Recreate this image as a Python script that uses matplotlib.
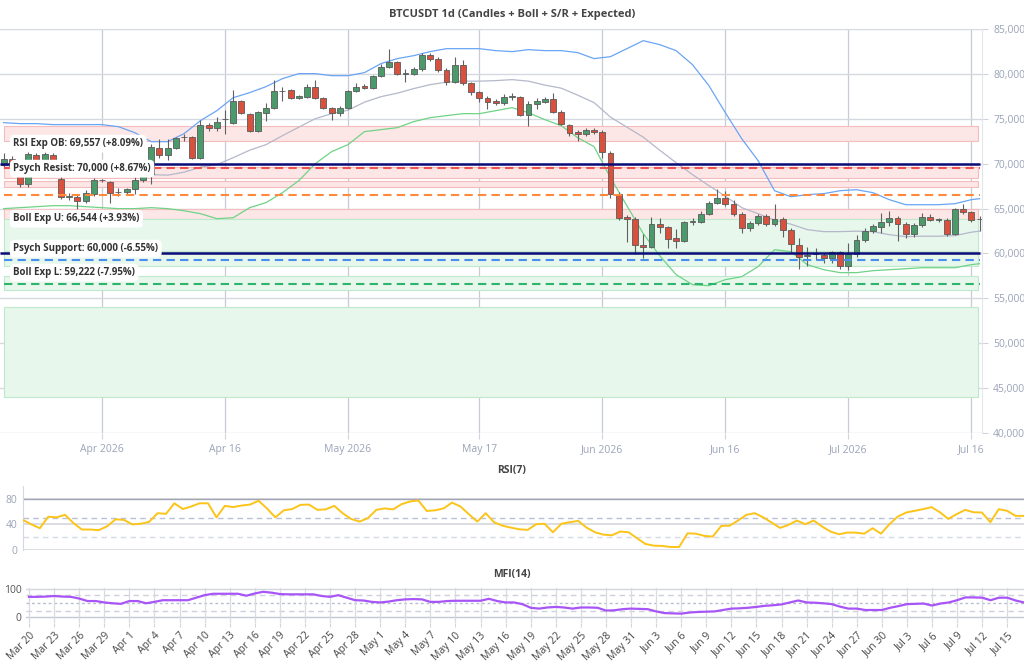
import numpy as np
import pandas as pd
import matplotlib
matplotlib.use("Agg")
import matplotlib.pyplot as plt
import matplotlib.dates as mdates
from matplotlib.patches import Rectangle
from matplotlib.ticker import FuncFormatter

plt.rcParams['font.family'] = ['Open Sans', 'DejaVu Sans']

# daily candles, Mar 20 .. Jul 17 2026
dates = pd.date_range("2026-03-20", periods=120, freq="D")

opens = [69890, 70560, 69660, 67770, 71000, 70110, 71000, 68330, 66320, 66320,
         65880, 66660, 68220, 67990, 66880, 66880, 67220, 68220, 68890, 71780,
         71000, 71780, 72950, 73010, 70670, 74350, 74010, 74960, 74570, 77020,
         75570, 73680, 75680, 76240, 78080, 78240, 77350, 77460, 78580, 77350,
         76240, 75680, 76240, 78130, 78690, 78470, 79800, 80810, 81360, 80030,
         80030, 80580, 82140, 81700, 80470, 79140, 81030, 79020, 78020, 77350,
         77020, 76800, 77460, 77460, 75460, 76680, 76910, 77240, 75790, 74350,
         73570, 73340, 73790, 73570, 71230, 66660, 64100, 63870, 60980, 60750,
         63320, 62980, 61760, 61420, 63540, 63540, 64430, 65660, 66210, 65540,
         64430, 62870, 63430, 64210, 63320, 63870, 62650, 60980, 59750, 59970,
         59860, 59530, 60200, 58640, 59970, 61530, 62540, 62980, 63540, 63980,
         63320, 62200, 63200, 64100, 63760, 63760, 62200, 64990, 64650, 63870]
highs = [71230, 70900, 70000, 71450, 71230, 71340, 71230, 68660, 66770, 66540,
         67100, 68440, 68330, 68110, 67330, 67330, 68550, 69000, 72230, 72790,
         72790, 73010, 73340, 73120, 74900, 74570, 75240, 76020, 78240, 77130,
         75680, 75900, 76800, 79360, 78580, 78360, 77690, 78910, 79360, 77460,
         76350, 76460, 78240, 79020, 78910, 79910, 81140, 82810, 81470, 80580,
         80810, 82370, 82370, 81920, 80690, 81920, 81590, 79140, 78130, 77580,
         77240, 77800, 77910, 77580, 77020, 77350, 77460, 77910, 76020, 74460,
         73790, 74010, 74010, 73790, 71450, 66880, 64320, 64100, 62200, 64100,
         63980, 63090, 62760, 63650, 63980, 64760, 65880, 67220, 67000, 65990,
         64650, 63650, 64430, 64430, 65540, 64100, 62870, 61760, 60750, 60640,
         60090, 60310, 60310, 61200, 62090, 62870, 63320, 64540, 64760, 64210,
         63540, 63430, 64540, 64430, 63980, 63980, 65100, 65540, 64760, 64210]
lows = [69550, 69220, 67440, 67440, 69780, 69890, 69220, 66100, 65990, 64990,
        65660, 66430, 67990, 65660, 66430, 66660, 66660, 68000, 67770, 70670,
        70450, 71670, 72560, 70560, 70560, 73680, 73680, 73340, 74460, 75570,
        73570, 73570, 74790, 76130, 77020, 77240, 77240, 77350, 77240, 76130,
        74900, 75350, 76130, 78020, 78360, 78360, 79690, 80690, 79910, 79140,
        79910, 80360, 81480, 80250, 78800, 79020, 78800, 77690, 76910, 76130,
        76570, 76570, 77130, 75350, 74230, 76130, 76800, 75680, 74350, 73120,
        72560, 73120, 73340, 70670, 66210, 63760, 61310, 59970, 59530, 60640,
        62310, 60640, 60640, 61310, 63200, 63430, 64320, 65540, 65320, 64210,
        62310, 62540, 63200, 63090, 63090, 61870, 60190, 58300, 58600, 59300,
        58970, 58970, 58300, 58190, 59640, 61310, 62310, 62310, 63090, 61420,
        61760, 61870, 62980, 63650, 63540, 61980, 62090, 64430, 63540, 62540]
closes = [70560, 69660, 67770, 71110, 70110, 71110, 69660, 66320, 66430, 65880,
          66770, 68220, 68160, 66770, 66830, 67220, 68220, 68770, 71890, 71000,
          71780, 72900, 73010, 70670, 74350, 74010, 74680, 75010, 77020, 75680,
          73680, 75790, 76240, 78130, 78130, 77350, 77580, 78580, 77350, 76240,
          75680, 76240, 78130, 78580, 78470, 79800, 80810, 81360, 80030, 80080,
          80580, 82140, 81700, 80470, 79140, 81030, 79020, 78020, 77350, 76910,
          76800, 77460, 77520, 75460, 76680, 77020, 77240, 75790, 74460, 73450,
          73340, 73790, 73570, 71340, 66660, 63980, 63870, 60980, 60750, 63320,
          62980, 61650, 61420, 63540, 63600, 64430, 65660, 66210, 65540, 64430,
          62870, 63430, 64210, 63320, 63870, 62650, 61090, 59640, 59800, 60030,
          59530, 60200, 58640, 59970, 61530, 62540, 63090, 63540, 63980, 63320,
          62200, 63200, 64100, 63760, 63820, 62200, 64990, 64650, 63760, 63820]

# bollinger bands read every second day (+ last day)
band_dates = list(dates[::2]) + [dates[-1]]
boll_upper = [74570, 74460, 74460, 74350, 74350, 74350, 74350, 74120, 73450, 72450,
              72450, 73340, 74790, 75900, 77350, 77910, 78580, 79470, 80030, 80030,
              79800, 79800, 80140, 81140, 81700, 82030, 82480, 82810, 82810, 82810,
              82590, 82480, 82700, 82590, 82590, 82370, 81700, 81920, 82810, 83700,
              83260, 82590, 81030, 78690, 75680, 72790, 70330, 66990, 66320, 66550,
              66660, 66990, 67100, 66770, 65990, 65430, 65430, 65430, 65540, 65990, 66100]
boll_mid = [69780, 69780, 69830, 69830, 69830, 69780, 69720, 69550, 69220, 68780,
            68720, 69050, 69610, 69890, 70670, 71500, 72120, 73120, 74070, 75010,
            75570, 75960, 76850, 77460, 77850, 78360, 78800, 79080, 79190, 79190,
            79250, 79360, 79190, 78750, 78410, 77630, 76800, 75180, 74070, 72950,
            71500, 70110, 68780, 67550, 66380, 65100, 64430, 63710, 63260, 62650,
            62430, 62430, 62480, 62430, 62090, 61870, 61920, 61920, 61980, 62370, 62480]
boll_lower = [64990, 65100, 65210, 65320, 65320, 65210, 65100, 64990, 64990, 65100,
              64990, 64760, 64430, 63870, 63980, 65100, 65660, 66770, 68110, 70000,
              71340, 72120, 73570, 73790, 74010, 74680, 75120, 75350, 75570, 75570,
              75900, 76240, 75680, 74900, 74230, 72900, 71890, 68440, 65320, 62200,
              59750, 57640, 56520, 56410, 57080, 57410, 58530, 60420, 60200, 58750,
              58190, 57860, 57860, 58080, 58190, 58300, 58410, 58410, 58410, 58750, 58860]

# support / resistance zones
red_zones = [(72560, 74150), (68410, 69590), (67360, 68110), (63870, 64990)]
green_zones = [(60310, 63870), (58640, 60310), (55960, 57520), (44010, 54040)]

psych_levels = [70000, 60000]
rsi_ob, boll_u, boll_l, rsi_os = 69557, 66544, 59222, 56630

rsi = [47, 40, 34, 52, 51, 55, 42, 32, 32, 31,
       37, 48, 47, 40, 41, 44, 57.5, 56.5, 73, 64,
       68, 73, 73, 51, 69, 67, 69.5, 71, 77, 65,
       51, 62, 64, 70.6, 71, 62.7, 63.5, 69, 57.5, 48.6,
       44.4, 49.7, 62.7, 65, 63.5, 71.6, 75.8, 77.4, 61, 62,
       65, 74, 68, 56, 44.4, 57.5, 43.4, 38, 35, 32.4,
       31.4, 40.3, 41, 27.7, 41, 43.4, 45.5, 35, 27.7, 24,
       23, 28.8, 27.7, 18.3, 9.4, 6.8, 6.3, 4.7, 4.7, 26,
       25.5, 22, 21, 37.6, 38, 46, 55, 57.5, 51, 42.9,
       34.5, 39.2, 46, 40.3, 46, 36.6, 28.8, 24.6, 27.2, 27.2,
       25.5, 34, 25.5, 40.3, 52.3, 58.6, 61.2, 63.8, 67, 59,
       48.6, 56, 62.7, 59, 58.6, 43.4, 63.8, 61.2, 53.3, 53.3]
mfi = [72, 72, 73, 75, 73, 72, 66, 57, 57, 52,
       49, 47, 57, 57, 49, 54, 60, 60, 60, 60,
       69, 78, 83, 83, 83, 83, 76, 84, 90, 87,
       82, 81, 81, 81, 81, 75, 72, 78, 69, 60,
       59, 54, 52, 55, 60, 63, 64, 63, 54, 54,
       57, 58, 58, 58, 58, 65, 57, 52, 52, 46,
       33, 30, 34, 36, 34, 30, 34, 34, 33, 23,
       24, 28, 30, 29, 28, 20, 14, 13, 12, 16,
       18, 19, 20, 25, 30, 31, 33, 36, 40, 42,
       45, 52, 59, 52, 51, 49, 46, 37, 30, 30,
       25, 25, 25, 33, 39, 46, 47, 48, 41, 48,
       52, 60, 70, 70, 69, 60, 69, 69, 59, 52]

main_ticks = ["2026-04-01", "2026-04-16", "2026-05-01", "2026-05-17",
              "2026-06-01", "2026-06-16", "2026-07-01", "2026-07-16"]
main_tick_labels = ["Apr 2026", "Apr 16", "May 2026", "May 17",
                    "Jun 2026", "Jun 16", "Jul 2026", "Jul 16"]

LABEL_GREY = '#9aa3b8'
W, H = 1024, 662


def box(l, t, r, b):
    """pixel box -> figure fraction rect"""
    return [l / W, 1 - b / H, (r - l) / W, (b - t) / H]


fig = plt.figure(figsize=(10.24, 6.62), dpi=100)
ax = fig.add_axes(box(0, 29, 982, 433))
ax_rsi = fig.add_axes(box(23, 486, 1024, 550))
ax_mfi = fig.add_axes(box(26, 588, 1024, 623))

x = mdates.date2num(dates)
bx = mdates.date2num(band_dates)
o, h, l, c = map(np.array, (opens, highs, lows, closes))

# ---- main price panel ----
ax.set_xlim(x[0] - 0.44, x[0] + 119.3)
ax.set_ylim(40000, 85000)

for lo, hi in red_zones:
    ax.add_patch(Rectangle((x[0], lo), x[-1] - x[0] - 0.2, hi - lo,
                           facecolor='#fde6e6', edgecolor='#f4bcbc', lw=0.8, zorder=1))
for lo, hi in green_zones:
    ax.add_patch(Rectangle((x[0], lo), x[-1] - x[0] - 0.2, hi - lo,
                           facecolor='#e7f7ec', edgecolor='#bfe9cc', lw=0.8, zorder=1))

ax.plot(bx, boll_upper, color='#6aa5f5', lw=0.9, zorder=3)
ax.plot(bx, boll_mid, color='#b5b8ca', lw=0.9, zorder=3)
ax.plot(bx, boll_lower, color='#6fd386', lw=0.9, zorder=3)

up = c >= o
ax.vlines(x, l, h, color='#606060', lw=0.8, zorder=4)
ax.bar(x, np.maximum(np.abs(c - o), 40), bottom=np.minimum(o, c), width=0.72,
       color=np.where(up, '#4a9a6c', '#d9503d'), edgecolor='#5a5a5a',
       linewidth=0.6, zorder=5)

dash = (0, (4, 2.5))
ax.hlines(rsi_ob, x[0], x[-1], color='#ef5350', lw=1.5, linestyles=dash, zorder=6)
ax.hlines(boll_u, x[0], x[-1], color='#ff8a3d', lw=1.5, linestyles=dash, zorder=6)
ax.hlines(boll_l, x[0], x[-1], color='#4a8ff0', lw=1.5, linestyles=dash, zorder=6)
ax.hlines(rsi_os, x[0], x[-1], color='#2eb46c', lw=1.5, linestyles=dash, zorder=6)
ax.hlines(psych_levels, x[0] - 0.44, x[-1], color='#0b0b78', lw=1.8, zorder=7)

bbox = dict(boxstyle='round,pad=0.35,rounding_size=0.5', fc='white', ec='none')
labels = [
    (72230, f"RSI Exp OB: {rsi_ob:,} (+8.09%)"),
    (69440, "Psych Resist: 70,000 (+8.67%)"),
    (63870, f"Boll Exp U: {boll_u:,} (+3.93%)"),
    (60530, "Psych Support: 60,000 (-6.55%)"),
    (57860, f"Boll Exp L: {boll_l:,} (-7.95%)"),
]
for yv, txt in labels:
    ax.text(0.0135, yv, txt, transform=ax.get_yaxis_transform(), fontsize=7,
            fontweight='bold', color='#333333', ha='left', va='center',
            bbox=bbox, zorder=10)

ax.set_yticks(np.arange(40000, 85001, 5000))
ax.yaxis.set_major_formatter(FuncFormatter(lambda v, p: f"{int(v):,}"))
ax.yaxis.tick_right()
ax.set_xticks(mdates.date2num(pd.to_datetime(main_ticks)))
ax.set_xticklabels(main_tick_labels)
ax.tick_params(axis='both', labelsize=7.5, labelcolor=LABEL_GREY, color='#d0d4dc',
               length=4, pad=4)
ax.grid(axis='y', color='#d6d9e0', lw=1, zorder=0)
ax.grid(axis='x', color='#c7cbd4', lw=0.9, zorder=0)
for s in ('top', 'left', 'bottom'):
    ax.spines[s].set_visible(False)
ax.spines['right'].set_color('#e3e6ec')
ax.set_axisbelow(True)

fig.text(0.5, 1 - 14 / H, "BTCUSDT 1d (Candles + Boll + S/R + Expected)",
         ha='center', va='center', fontsize=8, fontweight='bold', color='#444444')

# ---- RSI panel ----
ax_rsi.plot(x, rsi, color='#fcc419', lw=1.4, zorder=4)
ax_rsi.set_xlim(x[0], x[-1])
ax_rsi.set_ylim(0, 100)
ax_rsi.set_yticks([0, 40, 80])
ax_rsi.grid(axis='y', color='#d4d7de', lw=1.2)
ax_rsi.axhline(80, color='#a3a6b4', lw=1, zorder=2)
ax_rsi.axhline(50, color='#b9c1d9', lw=1, ls=(0, (4, 3)), zorder=2)
ax_rsi.axhline(20, color='#d5dae6', lw=1, ls=(0, (4, 3)), zorder=2)
ax_rsi.set_xticks([])
ax_rsi.tick_params(axis='y', labelsize=7.5, labelcolor=LABEL_GREY, length=0, pad=4)
for s in ('top', 'right', 'bottom'):
    ax_rsi.spines[s].set_visible(False)
ax_rsi.spines['left'].set_color('#d5d8e0')
fig.text(0.5, 1 - 471 / H, "RSI(7)", ha='center', va='center', fontsize=7.5,
         fontweight='bold', color='#444444')

# ---- MFI panel ----
mfi_ticks = pd.date_range("2026-03-20", "2026-07-15", freq="3D")
ax_mfi.plot(x, mfi, color='#a855f7', lw=1.6, zorder=4)
ax_mfi.set_xlim(x[0] - 0.36, x[-1])
ax_mfi.set_ylim(-21.4, 103.6)
ax_mfi.set_yticks([0, 100])
ax_mfi.axhline(100, color='#d2d6de', lw=1, zorder=1)
ax_mfi.axhline(0, color='#c4c8d2', lw=1, zorder=1)
ax_mfi.axhline(80, color='#ccd1dc', lw=1, ls=(0, (4, 3)), zorder=1)
ax_mfi.axhline(50, color='#b6bdcf', lw=1, ls=(0, (2, 2)), zorder=1)
ax_mfi.axhline(20, color='#ccd1dc', lw=1, ls=(0, (4, 3)), zorder=1)
ax_mfi.set_xticks(mdates.date2num(mfi_ticks))
ax_mfi.set_xticklabels([f"{d:%b} {d.day}" for d in mfi_ticks], rotation=45,
                       ha='right', rotation_mode='anchor')
ax_mfi.grid(axis='x', color='#d8dbe2', lw=0.9, zorder=0)
ax_mfi.tick_params(axis='x', labelsize=7.5, labelcolor='#444444', color='#d0d4dc',
                   length=3, pad=2)
ax_mfi.tick_params(axis='y', labelsize=7.5, labelcolor='#555555', length=0, pad=3)
for s in ax_mfi.spines.values():
    s.set_visible(False)
fig.text(0.5, 1 - 574 / H, "MFI(14)", ha='center', va='center', fontsize=7.5,
         fontweight='bold', color='#444444')

fig.savefig("out.png", dpi=100)
